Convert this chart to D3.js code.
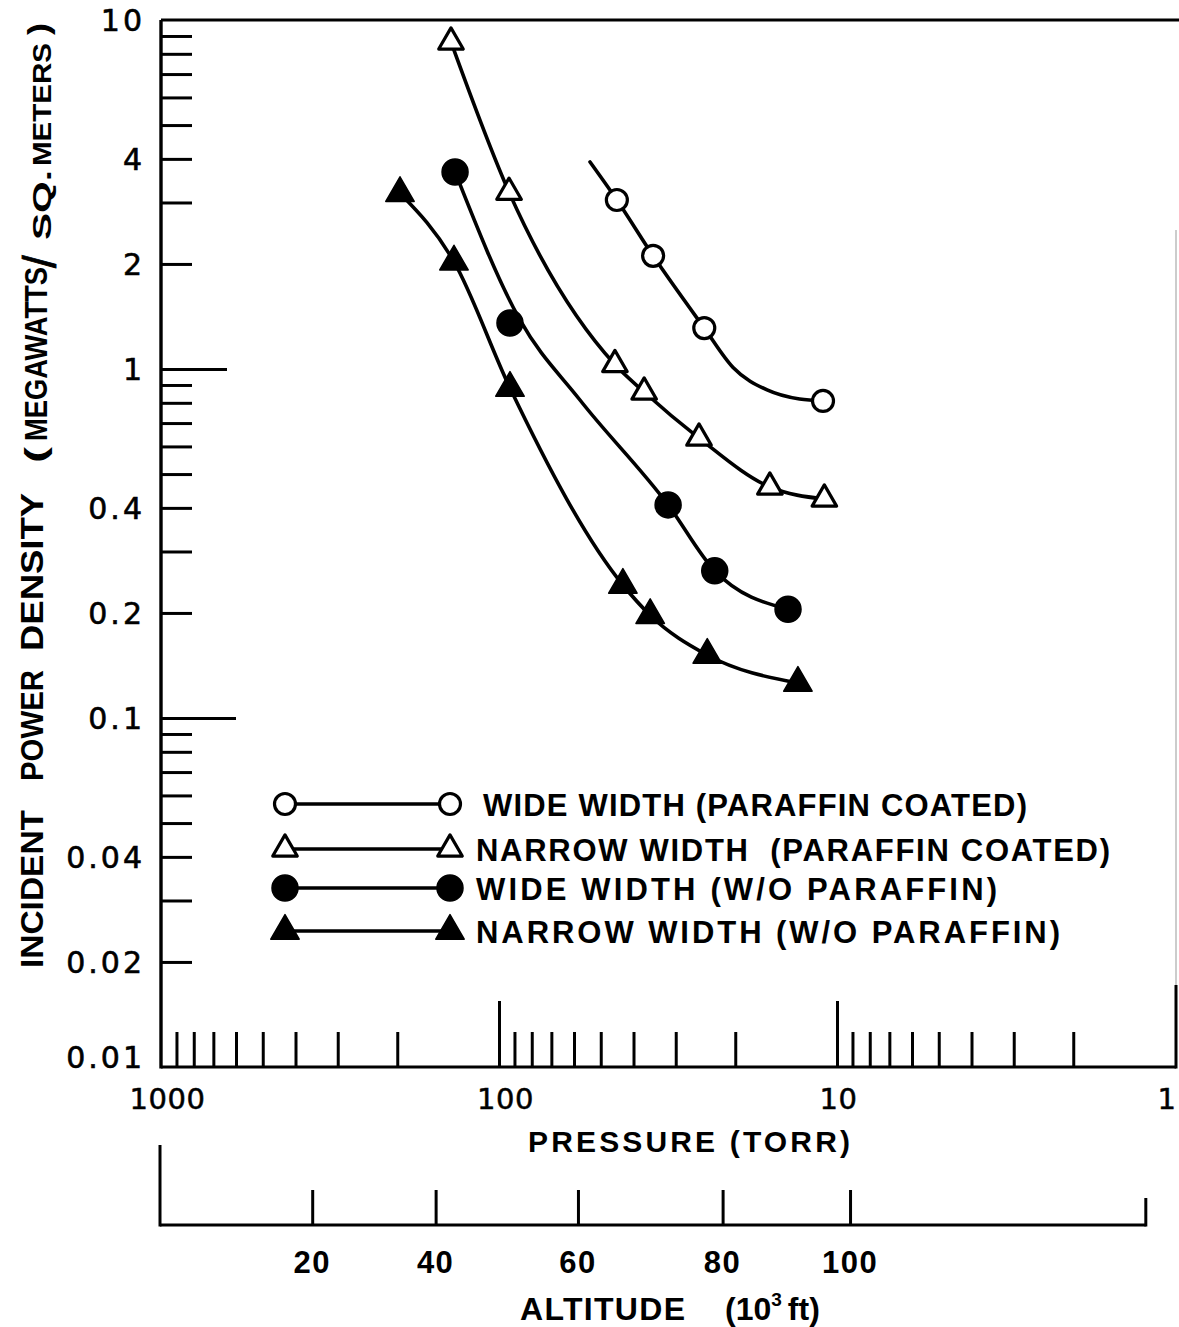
<!DOCTYPE html>
<html><head><meta charset="utf-8">
<script src="https://cdn.jsdelivr.net/npm/d3@7"></script>
<style>
html,body{margin:0;padding:0;background:#fff;}
svg{display:block;background:#fff;}
</style></head><body>
<svg id="chart" width="1179" height="1327"></svg>
<script>
// ---------------- DATA ----------------
const seriesLabels = [
  "WIDE WIDTH (PARAFFIN COATED)",
  "NARROW WIDTH  (PARAFFIN COATED)",
  "WIDE WIDTH (W/O PARAFFIN)",
  "NARROW WIDTH (W/O PARAFFIN)"
];
// pressure (torr) / incident power density (MW/m^2) of the plotted symbols
const wideCoatedP = [44.8, 35.0, 24.7, 11.0];
const wideCoatedV = [3.05, 2.11, 1.31, 0.81];
const narrowCoatedP = [138.7, 93.4, 45.4, 37.2, 25.6, 15.8, 10.9];
const narrowCoatedV = [8.65, 3.21, 1.03, 0.859, 0.634, 0.459, 0.424];
const wideBareP = [134.9, 92.8, 31.6, 23.0, 13.96];
const wideBareV = [3.67, 1.354, 0.408, 0.264, 0.205];
const narrowBareP = [196.3, 135.9, 92.8, 43.0, 35.7, 24.2, 13.05];
const narrowBareV = [3.19, 2.03, 0.882, 0.2405, 0.197, 0.1515, 0.126];
// points
const wideCoatedCurveP = [53.8, 44.8, 35.0, 24.7, 20.3, 16.1, 12.9, 11.0];
const wideCoatedCurveV = [3.92, 3.05, 2.11, 1.31, 1.01, 0.871, 0.820, 0.81];
const wideBareCurveP = [134.9, 86.7, 57.6, 31.6, 23.0, 13.96];
const wideBareCurveV = [3.67, 1.382, 0.815, 0.408, 0.264, 0.205];

// axis ticks
const yMinorTicks = [9,8,7,6,5,4,3,2, 0.9,0.8,0.7,0.6,0.5,0.4,0.3,0.2, 0.09,0.08,0.07,0.06,0.05,0.04,0.03,0.02];
const yMajorTicks = [1, 0.1];
const yTickLabels = [10, 4, 2, 1, 0.4, 0.2, 0.1, 0.04, 0.02, 0.01];
const pMinorTicks = [900,800,700,600,500,400,300,200, 90,80,70,60,50,40,30,20, 9,8,7,6,5,4,3,2];
const pMajorTicks = [100, 10];
const pTickLabels = [1000, 100, 10, 1];
const altTicks = [20, 40, 60, 80, 100];              // 10^3 ft
const altTickPressure = [357, 154, 58.4, 21.8, 9.15]; // pressure under each altitude tick
const altAxisPressureEnds = [1000, 1.22];

// ---------------- LAYOUT ----------------
const svg = d3.select("#chart");
const x = d3.scaleLog().domain([1000, 1]).range([161, 1175]);
const y = d3.scaleLog().domain([0.01, 10]).range([1067, 20]);
const X0 = x(1000), XR = 1176, YT = y(10), YB = y(0.01);

const ink = "#000";
const tickFont = "'DejaVu Sans', sans-serif";
const boldFont = "'Liberation Sans', Arial, sans-serif";

// frame lines
svg.append("line").attr("x1", X0).attr("x2", 1179).attr("y1", YT).attr("y2", YT)
  .attr("stroke", ink).attr("stroke-width", 3);
svg.append("line").attr("x1", X0).attr("x2", X0).attr("y1", YT).attr("y2", YB + 1.5)
  .attr("stroke", ink).attr("stroke-width", 3.4);
svg.append("line").attr("x1", X0).attr("x2", XR).attr("y1", YB).attr("y2", YB)
  .attr("stroke", ink).attr("stroke-width", 3.2);
svg.append("line").attr("x1", XR).attr("x2", XR).attr("y1", 230).attr("y2", YB)
  .attr("stroke", "#999").attr("stroke-width", 1);
svg.append("line").attr("x1", XR).attr("x2", XR).attr("y1", 985).attr("y2", YB + 1.5)
  .attr("stroke", ink).attr("stroke-width", 3);

// y ticks (inside, to the right of the axis)
const yAx = svg.append("g").attr("transform", `translate(${X0},0)`)
  .call(d3.axisRight(y).tickValues(yMinorTicks.concat(yMajorTicks)).tickSize(30).tickFormat(""));
yAx.select(".domain").remove();
yAx.selectAll(".tick line").attr("stroke", ink).attr("stroke-width", 3)
  .attr("x2", d => d === 1 ? 66 : (d === 0.1 ? 75 : 31));

// y tick labels
const yLab = svg.append("g").attr("transform", `translate(${X0},0)`)
  .call(d3.axisLeft(y).tickValues(yTickLabels).tickSize(0).tickPadding(16).tickFormat(d3.format("~g")));
yLab.select(".domain").remove();
yLab.selectAll(".tick text").attr("font-family", tickFont).attr("font-size", 30)
  .attr("letter-spacing", 3).attr("fill", ink).attr("stroke", ink).attr("stroke-width", 0.6)
  .attr("dy", d => d === 0.01 ? "0.02em" : "0.36em");

// x ticks (upwards from bottom axis)
const xAx = svg.append("g").attr("transform", `translate(0,${YB})`)
  .call(d3.axisTop(x).tickValues(pMinorTicks.concat(pMajorTicks)).tickSize(35).tickFormat(""));
xAx.select(".domain").remove();
xAx.selectAll(".tick line").attr("stroke", ink).attr("stroke-width", 3)
  .attr("y2", d => (d === 100 || d === 10) ? -66 : -35);

// x tick labels
const xLab = svg.append("g").attr("transform", `translate(0,${YB})`)
  .call(d3.axisBottom(x).tickValues(pTickLabels).tickSize(0).tickPadding(21).tickFormat(d3.format("d")));
xLab.select(".domain").remove();
xLab.selectAll(".tick text").attr("font-family", tickFont).attr("font-size", 29)
  .attr("letter-spacing", 0.5).attr("fill", ink).attr("stroke", ink).attr("stroke-width", 0.5)
  .attr("text-anchor", d => d === 1 ? "end" : "middle")
  .attr("dx", d => d === 1 ? 1 : (d === 10 ? 1 : 6));

// x title
svg.append("text").attr("x", 528).attr("y", 1152).text("PRESSURE  (TORR)")
  .attr("font-family", boldFont).attr("font-weight", "bold").attr("font-size", 30)
  .attr("textLength", 322).attr("lengthAdjust", "spacing").attr("fill", ink);

// altitude axis
const altY = 1225;
const alt = d3.scaleLinear().domain(altTicks).range(altTickPressure.map(p => x(p)));
const altLeft = x(altAxisPressureEnds[0]) - 1, altRight = x(altAxisPressureEnds[1]);
svg.append("line").attr("x1", altLeft).attr("x2", altRight).attr("y1", altY).attr("y2", altY)
  .attr("stroke", ink).attr("stroke-width", 3);
svg.append("line").attr("x1", altLeft).attr("x2", altLeft).attr("y1", 1145).attr("y2", altY + 1.5)
  .attr("stroke", ink).attr("stroke-width", 3);
svg.append("line").attr("x1", altRight).attr("x2", altRight).attr("y1", 1198).attr("y2", altY + 1.5)
  .attr("stroke", ink).attr("stroke-width", 3);
const altAx = svg.append("g").attr("transform", `translate(0,${altY})`)
  .call(d3.axisTop(alt).tickValues(altTicks).tickSize(35).tickFormat(""));
altAx.select(".domain").remove();
altAx.selectAll(".tick line").attr("stroke", ink).attr("stroke-width", 3);
svg.append("g").selectAll("text").data(altTicks).join("text")
  .attr("x", d => alt(d)).attr("y", 1273).attr("text-anchor", "middle")
  .attr("font-family", boldFont).attr("font-weight", "bold").attr("font-size", 31)
  .attr("letter-spacing", 1.5).attr("fill", ink).text(d => d);

// altitude title
const altTitle = svg.append("text").attr("x", 520).attr("y", 1320)
  .attr("font-family", boldFont).attr("font-weight", "bold").attr("font-size", 32).attr("fill", ink);
altTitle.append("tspan").text("ALTITUDE").attr("textLength", 165).attr("lengthAdjust", "spacing");
altTitle.append("tspan").attr("x", 725).text("(10");
altTitle.append("tspan").attr("dy", -14).attr("font-size", 19).text("3");
altTitle.append("tspan").attr("dy", 14).attr("dx", 6).text("ft)");

// y title (rotated pieces)
const yTitleParts = [
  {t: "INCIDENT", y0: 968, y1: 810, x: 43, fs: 32},
  {t: "POWER", y0: 781, y1: 670, x: 43, fs: 32},
  {t: "DENSITY", y0: 651, y1: 493, x: 43, fs: 32},
  {t: "(", y0: 463, y1: 447, x: 46, fs: 30},
  {t: "MEGAWATTS", y0: 441, y1: 267, x: 47, fs: 31},
  {t: "SQ.", y0: 240, y1: 170, x: 51, fs: 26},
  {t: "METERS", y0: 166, y1: 43, x: 51, fs: 26},
  {t: ")", y0: 35, y1: 23, x: 49, fs: 30}
];
svg.append("g").selectAll("text").data(yTitleParts).join("text")
  .attr("transform", d => `translate(${d.x},${d.y0}) rotate(-90)`)
  .attr("font-family", boldFont).attr("font-weight", "bold")
  .attr("font-size", d => d.fs).attr("fill", ink)
  .attr("textLength", d => d.y0 - d.y1).attr("lengthAdjust", "spacingAndGlyphs")
  .text(d => d.t);
// the fraction slash between MEGAWATTS and SQ. METERS
svg.append("text").attr("transform", "translate(56,268) rotate(-90)")
  .attr("font-family", boldFont).attr("font-size", 46).attr("fill", ink)
  .attr("stroke", ink).attr("stroke-width", 0.8).text("/");

// ---------------- SERIES ----------------
const zip = (a, b) => a.map((v, i) => [v, b[i]]);
const series = [
  {pts: zip(wideCoatedP, wideCoatedV), curve: zip(wideCoatedCurveP, wideCoatedCurveV), sym: d3.symbolCircle, fill: false},
  {pts: zip(narrowCoatedP, narrowCoatedV), curve: zip(narrowCoatedP, narrowCoatedV), sym: d3.symbolTriangle, fill: false},
  {pts: zip(wideBareP, wideBareV), curve: zip(wideBareCurveP, wideBareCurveV), sym: d3.symbolCircle, fill: true},
  {pts: zip(narrowBareP, narrowBareV), curve: zip(narrowBareP, narrowBareV), sym: d3.symbolTriangle, fill: true}
];
const symSize = s => s.sym === d3.symbolCircle ? (s.fill ? Math.PI * 13 * 13 : Math.PI * 10.5 * 10.5) : (s.fill ? 350 : 260);

const line = d3.line().x(d => x(d[0])).y(d => y(d[1])).curve(d3.curveMonotoneX);
const plot = svg.append("g");
series.forEach(s => {
  plot.append("path").attr("d", line(s.curve)).attr("fill", "none")
    .attr("stroke", ink).attr("stroke-width", 3.6).attr("stroke-linecap", "round");
});
series.forEach(s => {
  plot.append("g").selectAll("path").data(s.pts).join("path")
    .attr("transform", d => `translate(${x(d[0])},${y(d[1])})`)
    .attr("d", d3.symbol().type(s.sym).size(symSize(s)))
    .attr("fill", s.fill ? ink : "#fff").attr("stroke", ink)
    .attr("stroke-width", s.fill ? 1.5 : 3.2).attr("stroke-linejoin", "round");
});

// ---------------- LEGEND ----------------
const legRows = [804, 849, 888, 931];
const legTextLen = [544, 634, 521, 584];
const leg = svg.append("g");
series.forEach((s, i) => {
  const ly = legRows[i];
  leg.append("line").attr("x1", 285).attr("x2", 450).attr("y1", ly).attr("y2", ly)
    .attr("stroke", ink).attr("stroke-width", 3.6);
  [285, 450].forEach(lx => {
    leg.append("path").attr("transform", `translate(${lx},${ly})`)
      .attr("d", d3.symbol().type(s.sym).size(symSize(s)))
      .attr("fill", s.fill ? ink : "#fff").attr("stroke", ink)
      .attr("stroke-width", s.fill ? 1.5 : 3.2).attr("stroke-linejoin", "round");
  });
  leg.append("text").attr("x", i === 0 ? 483 : 476).attr("y", ly + 12)
    .attr("font-family", boldFont).attr("font-weight", "bold").attr("font-size", 31)
    .attr("fill", ink).attr("textLength", legTextLen[i]).attr("lengthAdjust", "spacing")
    .attr("xml:space", "preserve").style("white-space", "pre")
    .text(seriesLabels[i]);
});
</script>
</body></html>
